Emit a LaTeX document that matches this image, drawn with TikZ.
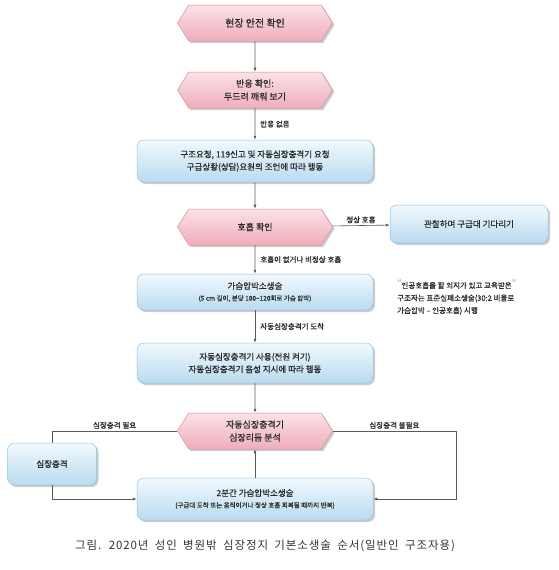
\documentclass[tikz,border=0pt]{standalone}
\usepackage{fontspec}
\setmainfont{Noto Sans CJK KR}
\newfontfamily\flowfont{Noto Sans CJK KR}[FakeBold=0.8]
\newfontfamily\captionfont{Noto Sans CJK KR}[LetterSpace=8, WordSpace=1.8]
\usetikzlibrary{arrows.meta,shapes.symbols,shadows,positioning}
\definecolor{flowpink}{HTML}{EFAEBB}
\definecolor{flowpinklight}{HTML}{FBE2E7}
\definecolor{flowpinkedge}{HTML}{D98A99}
\definecolor{flowblue}{HTML}{B8DBF0}
\definecolor{flowbluelight}{HTML}{F2F9FD}
\definecolor{flowblueedge}{HTML}{8FC3E2}
\definecolor{linegray}{HTML}{5A5A5A}
\definecolor{textgray}{HTML}{2B2B2B}
\definecolor{quotegray}{HTML}{AFC2C8}
\tikzset{
  checknode/.style={signal, signal to=west and east, signal pointer angle=116, draw=flowpinkedge, line width=0.5pt, top color=flowpinklight, bottom color=flowpink, minimum width=155pt, minimum height=36pt, inner sep=2pt, align=center, text=textgray, font=\flowfont\fontsize{9}{13}\selectfont, drop shadow={shadow xshift=2pt, shadow yshift=-2pt, fill=black!40}},
  actionnode/.style={draw=flowblueedge, line width=0.5pt, rounded corners=7pt, top color=flowbluelight, bottom color=flowblue, minimum width=236pt, minimum height=40pt, inner sep=2pt, align=center, text=textgray, font=\flowfont\fontsize{8.5}{12.5}\selectfont, drop shadow={shadow xshift=2pt, shadow yshift=-2pt, fill=black!40}},
  flowline/.style={linegray, line width=0.6pt},
  flowarrow/.style={flowline, -{Latex[length=4pt,width=3pt]}},
  edgelabel/.style={font=\flowfont\fontsize{7.5}{9}\selectfont, text=textgray, inner sep=2pt},
  notetext/.style={font=\flowfont\fontsize{7.5}{12.5}\selectfont, text=textgray, align=left, inner sep=0pt},
  captiontext/.style={font=\captionfont\fontsize{11.5}{13}\selectfont, text=black!80}
}
\begin{document}
\begin{tikzpicture}[x=1pt, y=-1pt]
  \useasboundingbox (0,0) rectangle (558,570);
  \node[checknode, font=\flowfont\fontsize{10}{13}\selectfont] (scene) at (255,23) {현장 안전 확인};
  \node[checknode] (respond) at (255,90) {반응 확인:\\두드려 깨워 보기};
  \node[actionnode, minimum height=42pt] (call) at (255,161) {구조요청, 119신고 및 자동심장충격기 요청\\구급상황(상담)요원의 조언에 따라 행동};
  \node[checknode] (breath) at (255,227) {호흡 확인};
  \node[actionnode, minimum width=158pt, minimum height=38pt] (wait) at (469,224) {관찰하며 구급대 기다리기};
  \node[actionnode, minimum height=36pt] (cpr) at (255,292) {가슴압박소생술\\[-1pt]{\fontsize{6.5}{9}\selectfont (5 cm 깊이, 분당 100\textasciitilde120회로 가슴 압박)}};
  \node[actionnode] (aeduse) at (255,363) {자동심장충격기 사용(전원 켜기)\\자동심장충격기 음성 지시에 따라 행동};
  \node[checknode] (rhythm) at (255,431) {자동심장충격기\\심장리듬 분석};
  \node[actionnode, minimum width=89pt, minimum height=42pt] (shock) at (52,464) {심장충격};
  \node[actionnode, minimum height=42pt] (twomin) at (255,499) {2분간 가슴압박소생술\\[-1pt]{\fontsize{6.5}{9}\selectfont (구급대 도착 또는 움직이거나 정상 호흡 회복될 때까지 반복)}};
  \node[notetext, anchor=west] (note) at (397,297) {\textcolor{quotegray}{\raisebox{2pt}{\small “}}인공호흡을 할 의지가 있고 교육받은\textcolor{quotegray}{\raisebox{2pt}{\small ”}}\\구조자는 표준심폐소생술(30:2 비율로\\가슴압박 – 인공호흡) 시행};
  \node[captiontext] (caption) at (265,546) {그림. 2020년 성인 병원밖 심장정지 기본소생술 순서(일반인 구조자용)};
  \coordinate (noshock) at (456,499);
  \draw[flowarrow] (scene) -- (respond);
  \draw[flowarrow] (respond) -- node[edgelabel, right=3pt] {반응 없음} (call);
  \draw[flowarrow] (call) -- (breath);
  \draw[flowarrow] (breath) -- node[edgelabel, above] {정상 호흡} (wait);
  \draw[flowarrow] (breath) -- node[edgelabel, right=3pt] {호흡이 없거나 비정상 호흡} (cpr);
  \draw[flowarrow] (cpr) -- node[edgelabel, right=3pt] {자동심장충격기 도착} (aeduse);
  \draw[flowarrow] (aeduse) -- (rhythm);
  \draw[flowline] (rhythm.west) -| node[edgelabel, above, pos=0.25] {심장충격 필요} (shock.north);
  \draw[flowarrow] (shock.south) |- (twomin.west);
  \draw[flowarrow] (rhythm.east) -| node[edgelabel, above, pos=0.25] {심장충격 불필요} (noshock) -- (twomin.east);
  \draw[flowarrow] (twomin) -- (rhythm);
\end{tikzpicture}
\end{document}
